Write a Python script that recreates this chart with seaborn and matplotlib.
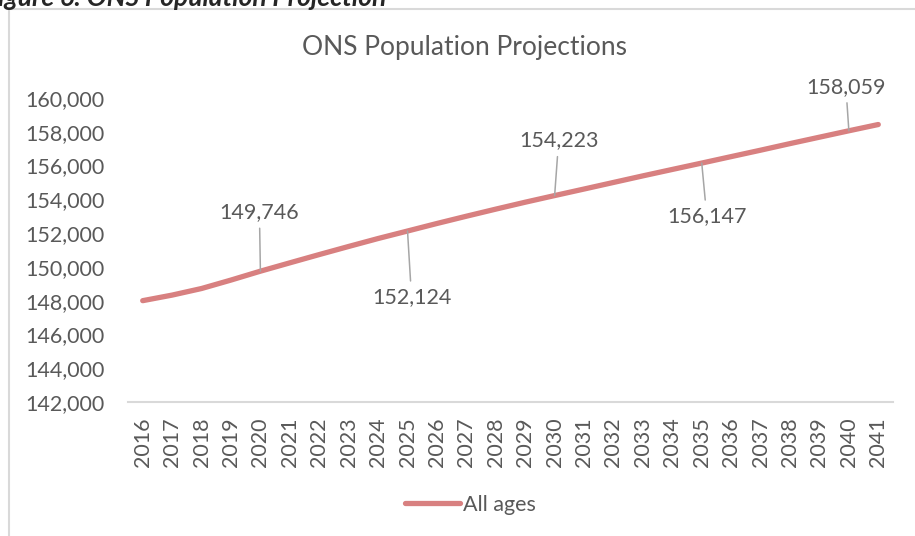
import numpy as np
import matplotlib
matplotlib.use("Agg")
import matplotlib.pyplot as plt
from matplotlib.lines import Line2D
import seaborn as sns

sns.set_style("white")
plt.rcParams["font.family"] = ["Lato", "DejaVu Sans"]

years = [str(y) for y in range(2016, 2042)]
population = [148000, 148330, 148720, 149220, 149746, 150240, 150730, 151210,
              151680, 152124, 152570, 153000, 153420, 153830, 154223, 154610,
              155000, 155390, 155770, 156147, 156530, 156910, 157300, 157680,
              158059, 158430]
series_name = "All ages"
title = "ONS Population Projections"
caption = "Figure 6: ONS Population Projection"

# which points get a data label, and where the label sits (pixels)
label_years = ["2020", "2025", "2030", "2035", "2040"]
label_offsets = [(-1, 59), (4, -66), (4, 55), (5, -53), (-3, 44)]

text_col = "#595959"
line_col = "#d88080"
fs = 15.5

fig = plt.figure(figsize=(9.15, 5.36), dpi=100)
ax = fig.add_axes([128 / 915, 1 - 402 / 536, (893 - 128) / 915, (402 - 98) / 536])

xs = np.arange(len(years))
sns.lineplot(x=xs, y=population, ax=ax, color=line_col, linewidth=3.8,
             solid_capstyle="round", label=series_name, legend=False)

ax.set_xlim(-0.5, len(years) - 0.5)
ax.set_ylim(142000, 160000)
ax.set_yticks(np.arange(142000, 160001, 2000))
ax.set_yticklabels([f"{v:,}" for v in np.arange(142000, 160001, 2000)])
ax.set_xticks(xs)
ax.set_xticklabels(years, rotation=90)
ax.tick_params(axis="y", length=0, pad=17, labelsize=fs, labelcolor=text_col)
ax.tick_params(axis="x", length=0, pad=11, labelsize=fs, labelcolor=text_col)

for side in ["top", "right", "left"]:
    ax.spines[side].set_visible(False)
ax.spines["bottom"].set_color("#d9d9d9")
ax.spines["bottom"].set_linewidth(1.5)

for yr, (dx, dy) in zip(label_years, label_offsets):
    i = years.index(yr)
    ax.annotate(f"{population[i]:,}", xy=(i, population[i]), xytext=(dx, dy),
                textcoords="offset pixels", ha="center", va="center",
                fontsize=fs, color=text_col,
                arrowprops=dict(arrowstyle="-", color="#a6a6a6", lw=1.1,
                                shrinkA=2, shrinkB=0))

fig.text(465 / 915, 1 - 47 / 536, title, ha="center", va="center",
         fontsize=19, color=text_col)

fig.legend(handles=[Line2D([], [], color=line_col, lw=3.8, solid_capstyle="round")],
           labels=[series_name], loc="center", bbox_to_anchor=(470 / 915, 1 - 505 / 536),
           frameon=False, handlelength=2.6, handletextpad=0.1,
           prop={"size": fs}, labelcolor=text_col)

# chart frame (only left and top edges visible) and the clipped caption above it
fig.add_artist(Line2D([9 / 915, 9 / 915], [0, 1 - 9 / 536], color="#d9d9d9", lw=1.5,
                      transform=fig.transFigure))
fig.add_artist(Line2D([9 / 915, 1], [1 - 9 / 536, 1 - 9 / 536], color="#d9d9d9", lw=1.5,
                      transform=fig.transFigure))
fig.text(-16 / 915, 1 - 6 / 536, caption, ha="left", va="baseline",
         fontsize=19, fontweight="bold", fontstyle="italic", color="#262626")

fig.savefig("out.png", dpi=100)
